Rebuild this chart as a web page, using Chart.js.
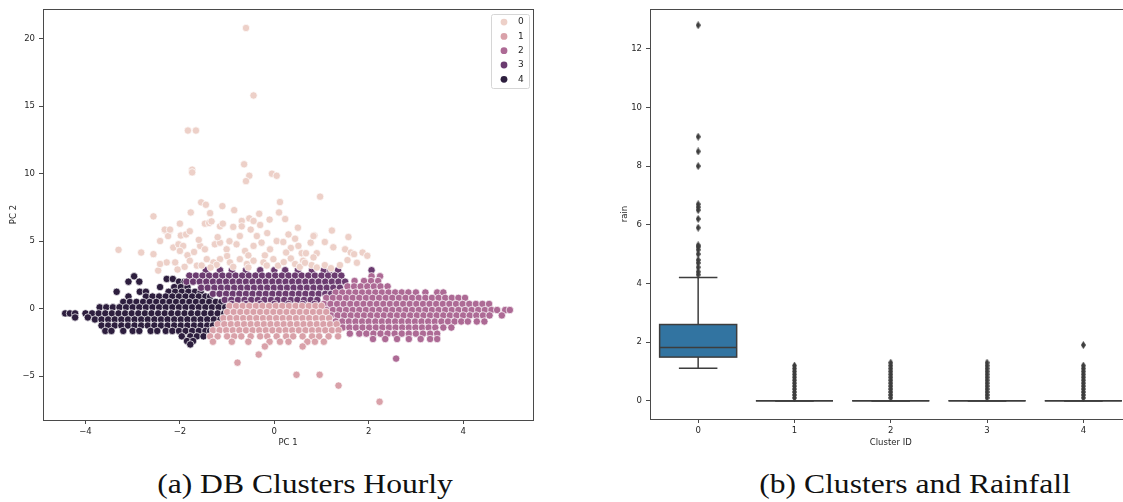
<!DOCTYPE html>
<html>
<head>
<meta charset="utf-8">
<script src="https://cdn.jsdelivr.net/npm/chart.js@4.4.0/dist/chart.umd.min.js"></script>
<style>
  html, body { margin: 0; padding: 0; background: #fff; }
  body { width: 1123px; height: 502px; overflow: hidden; position: relative; }
  #pcaChart { position: absolute; left: 0; top: 0; }
  #rainChart { position: absolute; left: 600px; top: 0; }
  .caption {
    position: absolute; top: 469px; transform: translateX(-50%) scaleX(1.17);
    font-family: "Liberation Serif", serif; font-size: 27px; color: #111; white-space: nowrap;
  }
</style>
</head>
<body>
<canvas id="pcaChart" width="560" height="460"></canvas>
<canvas id="rainChart" width="560" height="460"></canvas>
<div class="caption" style="left:305px">(a) DB Clusters Hourly</div>
<div class="caption" style="left:915px">(b) Clusters and Rainfall</div>
<script>
// ---- PCA scatter: cluster labels and colours ----
const clusterIds = ['0', '1', '2', '3', '4'];
const clusterColors = ['#edd0c8', '#d9a1a9', '#ad6a95', '#6b3b70', '#2d1e3e'];
const pcXTicks = [-4, -2, 0, 2, 4];
const pcYTicks = [-5, 0, 5, 10, 15, 20];

// cluster 0: sparse points, [PC1, PC2]
const cluster0 = [
  [-0.6, 20.8], [-0.44, 15.8], [-1.83, 13.2], [-1.66, 13.2], [-1.74, 10.3], [-1.74, 10.1],
  [-0.64, 10.7], [-0.53, 9.85], [-0.6, 9.45], [-0.05, 10.0], [0.05, 9.85], [0.97, 8.3],
  [0.12, 7.9], [0.1, 7.13], [0.23, 6.64], [-1.55, 7.88], [-1.45, 7.7], [-1.77, 7.13], [-1.36, 7.08],
  [-2.56, 6.84], [-0.32, 7.03], [-0.53, 6.69], [-0.44, 6.5], [-0.69, 6.5], [-0.85, 7.3], [-1.1, 7.6],
  [-2.21, 5.79], [-2.32, 5.79], [-2.25, 5.38], [-1.98, 5.42], [-1.87, 5.5], [-1.79, 5.74],
  [-1.47, 6.3], [-1.38, 6.35], [-1.33, 6.47], [-1.15, 6.1], [-1.09, 6.3], [-0.87, 6.06],
  [-0.69, 6.1], [-0.5, 5.86], [-0.3, 6.2], [-0.1, 6.6], [0.5, 6.0], [-2.0, 6.3],
  [-2.42, 5.01], [-2.82, 4.16], [-2.56, 4.04], [-2.14, 4.53], [-2.03, 4.77], [-1.93, 4.65],
  [-2.0, 4.28], [-1.84, 3.96], [-1.57, 4.65], [-1.47, 4.4], [-1.26, 4.77], [-1.15, 4.89],
  [-1.01, 4.4], [-0.8, 4.77], [-0.62, 4.28], [-0.44, 4.65], [-0.27, 4.89], [-0.09, 4.4],
  [0.05, 5.01], [-0.73, 5.38], [-0.37, 5.38], [-1.6, 5.1], [-1.2, 5.3], [-0.95, 5.0],
  [-0.15, 5.6], [0.3, 5.5], [-1.0, 3.9], [-1.7, 4.2], [-0.55, 3.95], [-0.2, 3.95], [0.35, 4.5],
  [-2.28, 3.43], [-2.46, 2.82], [-2.1, 3.43], [-1.79, 3.55], [-1.64, 3.19], [-1.43, 3.67],
  [-1.29, 3.43], [-1.15, 3.67], [-0.94, 3.43], [-0.73, 3.67], [-0.58, 3.31], [-0.44, 3.55],
  [-0.23, 3.43], [-0.02, 3.67], [0.08, 3.19], [-1.54, 3.2], [-1.22, 3.25], [-0.87, 3.1],
  [-0.55, 3.05], [-0.16, 3.2], [-1.9, 3.1], [-2.05, 2.9], [-1.35, 3.05], [0.2, 3.45],
  [1.22, 5.79], [1.57, 5.31], [0.85, 5.42], [0.44, 5.18], [0.19, 4.94], [0.77, 4.89],
  [1.07, 4.94], [0.51, 4.65], [0.25, 4.16], [0.58, 4.11], [0.67, 4.11], [0.9, 4.11],
  [1.5, 4.4], [1.62, 4.16], [1.69, 4.04], [1.87, 4.16], [1.97, 3.92], [0.35, 3.72],
  [0.61, 3.55], [0.83, 3.8], [0.44, 3.31], [0.79, 3.23], [1.07, 3.23], [1.39, 3.23],
  [0.54, 3.1], [0.9, 3.05], [0.65, 3.4], [1.2, 3.0], [1.55, 3.6], [1.75, 3.4], [1.25, 4.55],
  [-3.3, 4.36], [-2.32, 5.86], [-2.21, 5.86], [-2.42, 3.31], [0.83, 5.38]
];

// clusters 1-4: dense bands, one entry per row of points [PC2, [PC1 values]]
const cluster1Rows = [
  [0.2, [-0.95, -0.81, -0.67, -0.53, -0.39, -0.25, -0.11, 0.03, 0.17, 0.31, 0.45, 0.59, 0.73, 0.87, 1.0]],
  [-0.25, [-1.0, -0.86, -0.72, -0.58, -0.44, -0.3, -0.16, -0.02, 0.12, 0.26, 0.4, 0.54, 0.68, 0.82, 0.96, 1.1]],
  [-0.7, [-1.08, -0.94, -0.8, -0.66, -0.52, -0.38, -0.24, -0.1, 0.04, 0.18, 0.32, 0.46, 0.6, 0.74, 0.88, 1.02, 1.16]],
  [-1.15, [-1.2, -1.06, -0.92, -0.78, -0.64, -0.5, -0.36, -0.22, -0.08, 0.06, 0.2, 0.34, 0.48, 0.62, 0.76, 0.9, 1.04, 1.18, 1.32]],
  [-1.6, [-1.3, -1.16, -1.02, -0.88, -0.74, -0.6, -0.46, -0.32, -0.18, -0.04, 0.1, 0.24, 0.38, 0.52, 0.66, 0.8, 0.94, 1.08, 1.22, 1.36]],
  [-2.05, [-1.36, -1.2, -1.0, -0.85, -0.7, -0.5, -0.3, -0.15, 0.05, 0.25, 0.4, 0.6, 0.8, 0.95, 1.15, 1.35]],
  [-2.45, [-1.3, -0.9, -0.55, -0.1, 0.12, 0.3, 0.7, 0.86, 1.05]],
  [-2.8, [-0.2, 0.6]],
  [-3.4, [-0.33]],
  [-4.0, [-0.78]],
  [-4.9, [0.47, 0.96]],
  [-5.7, [1.36]],
  [-6.9, [2.23]]
];

const cluster2Rows = [
  [2.4, [2.06, 2.24]],
  [2.05, [1.7, 1.9, 2.05, 2.2]],
  [1.65, [1.55, 1.69, 1.83, 1.97, 2.11, 2.25, 2.4]],
  [1.2, [1.3, 1.44, 1.58, 1.72, 1.86, 2.0, 2.14, 2.28, 2.42, 2.56, 2.7, 2.84, 3.0, 3.2, 3.45, 3.58]],
  [0.8, [1.1, 1.24, 1.38, 1.52, 1.66, 1.8, 1.94, 2.08, 2.22, 2.36, 2.5, 2.64, 2.78, 2.92, 3.06, 3.2, 3.34, 3.48, 3.62, 3.76, 3.9, 4.04]],
  [0.35, [1.05, 1.19, 1.33, 1.47, 1.61, 1.75, 1.89, 2.03, 2.17, 2.31, 2.45, 2.59, 2.73, 2.87, 3.01, 3.15, 3.29, 3.43, 3.57, 3.71, 3.85, 3.99, 4.13, 4.27, 4.41, 4.55]],
  [-0.1, [1.1, 1.24, 1.38, 1.52, 1.66, 1.8, 1.94, 2.08, 2.22, 2.36, 2.5, 2.64, 2.78, 2.92, 3.06, 3.2, 3.34, 3.48, 3.62, 3.76, 3.9, 4.04, 4.18, 4.32, 4.46, 4.6, 4.72, 4.89, 4.99]],
  [-0.5, [1.2, 1.34, 1.48, 1.62, 1.76, 1.9, 2.04, 2.18, 2.32, 2.46, 2.6, 2.74, 2.88, 3.02, 3.16, 3.3, 3.44, 3.58, 3.72, 3.86, 4.0, 4.14, 4.28, 4.42, 4.56, 4.82]],
  [-0.95, [1.3, 1.44, 1.58, 1.72, 1.86, 2.0, 2.14, 2.28, 2.42, 2.56, 2.7, 2.84, 2.98, 3.12, 3.26, 3.4, 3.54, 3.68, 3.82, 3.96, 4.1, 4.29, 4.45]],
  [-1.4, [1.45, 1.59, 1.73, 1.87, 2.01, 2.15, 2.29, 2.43, 2.57, 2.71, 2.85, 2.99, 3.13, 3.27, 3.41, 3.58, 3.75]],
  [-1.85, [1.6, 1.8, 1.95, 2.1, 2.25, 2.4, 2.55, 2.7, 2.85, 3.0, 3.15, 3.3, 3.45]],
  [-2.25, [2.09, 2.35, 2.6, 2.85, 3.1, 3.3, 3.45]],
  [-3.7, [2.58]]
];

const cluster3Rows = [
  [2.85, [-1.45, -1.15, -0.9, -0.6, -0.3, 0.0, 0.23, 0.5, 0.8, 1.05, 1.18, 1.35, 2.06]],
  [2.45, [-1.8, -1.66, -1.52, -1.38, -1.24, -1.1, -0.96, -0.82, -0.68, -0.54, -0.4, -0.26, -0.12, 0.02, 0.16, 0.3, 0.44, 0.58, 0.72, 0.86, 1.0, 1.14, 1.28, 1.42]],
  [2.0, [-1.86, -1.72, -1.58, -1.44, -1.3, -1.16, -1.02, -0.88, -0.74, -0.6, -0.46, -0.32, -0.18, -0.04, 0.1, 0.24, 0.38, 0.52, 0.66, 0.8, 0.94, 1.08, 1.22, 1.36, 1.5]],
  [1.55, [-1.55, -1.41, -1.27, -1.13, -0.99, -0.85, -0.71, -0.57, -0.43, -0.29, -0.15, -0.01, 0.13, 0.27, 0.41, 0.55, 0.69, 0.83, 0.97, 1.11, 1.25, 1.39]],
  [1.1, [-1.3, -1.16, -1.02, -0.88, -0.74, -0.6, -0.46, -0.32, -0.18, -0.04, 0.1, 0.24, 0.38, 0.52, 0.66, 0.8, 0.94, 1.08, 1.2]],
  [0.65, [-1.05, -0.91, -0.77, -0.63, -0.49, -0.35, -0.21, -0.07, 0.07, 0.21, 0.35, 0.49, 0.63, 0.77, 0.91]],
  [0.35, [-0.9, -0.6, -0.3, 0.0, 0.3, 0.6, 0.85]]
];

const cluster4Rows = [
  [2.4, [-2.97]],
  [2.2, [-2.28, -2.15]],
  [2.0, [-3.09, -2.86, -2.02, -1.9]],
  [1.6, [-2.42, -2.12, -1.98, -1.84]],
  [1.25, [-3.34, -2.85, -2.72, -2.24, -2.1, -1.96, -1.82, -1.68, -1.56]],
  [0.9, [-3.09, -2.72, -2.58, -2.44, -2.3, -2.16, -2.02, -1.88, -1.74, -1.6, -1.46, -1.36]],
  [0.5, [-3.2, -3.06, -2.92, -2.78, -2.64, -2.5, -2.36, -2.22, -2.08, -1.94, -1.8, -1.66, -1.52, -1.38, -1.24, -1.12]],
  [0.1, [-3.7, -3.56, -3.42, -3.28, -3.14, -3.0, -2.86, -2.72, -2.58, -2.44, -2.3, -2.16, -2.02, -1.88, -1.74, -1.6, -1.46, -1.32, -1.18, -1.04]],
  [-0.35, [-4.43, -4.33, -4.22, -4.0, -3.86, -3.72, -3.58, -3.44, -3.3, -3.16, -3.02, -2.88, -2.74, -2.6, -2.46, -2.32, -2.18, -2.04, -1.9, -1.76, -1.62, -1.48, -1.34, -1.2, -1.06]],
  [-0.65, [-4.22, -3.95]],
  [-0.8, [-3.8, -3.66, -3.52, -3.38, -3.24, -3.1, -2.96, -2.82, -2.68, -2.54, -2.4, -2.26, -2.12, -1.98, -1.84, -1.7, -1.56, -1.42, -1.28, -1.14]],
  [-1.25, [-3.66, -3.52, -3.38, -3.24, -3.1, -2.96, -2.82, -2.68, -2.54, -2.4, -2.26, -2.12, -1.98, -1.84, -1.7, -1.56, -1.42, -1.3]],
  [-1.65, [-3.58, -3.45, -3.2, -3.0, -2.86, -2.62, -2.48, -2.3, -2.16, -2.02, -1.88, -1.74, -1.6, -1.46, -1.36]],
  [-2.05, [-1.96, -1.78, -1.64, -1.5]],
  [-2.4, [-1.85, -1.72]],
  [-2.65, [-1.78]]
];

// ---- rain box plot per cluster ----
const rainYTicks = [0, 2, 4, 6, 8, 10, 12];
const rainQ1 = [1.49, 0, 0, 0, 0];
const rainMedian = [1.82, 0, 0, 0, 0];
const rainQ3 = [2.6, 0, 0, 0, 0];
const rainWhiskerLow = [1.11, 0, 0, 0, 0];
const rainWhiskerHigh = [4.2, 0, 0, 0, 0];
const rainOutliers = [
  [12.8, 9.0, 8.5, 8.0, 6.7, 6.6, 6.5, 6.2, 5.9, 5.3, 5.25, 5.15, 5.0, 4.8, 4.7, 4.55, 4.4, 4.3],
  [0.1, 0.2, 0.3, 0.4, 0.5, 0.6, 0.7, 0.8, 0.9, 1.0, 1.1, 1.2],
  [0.1, 0.2, 0.3, 0.4, 0.5, 0.6, 0.7, 0.8, 0.9, 1.0, 1.1, 1.2, 1.3],
  [0.1, 0.2, 0.3, 0.4, 0.5, 0.6, 0.7, 0.8, 0.9, 1.0, 1.1, 1.2, 1.3],
  [0.1, 0.2, 0.3, 0.4, 0.5, 0.6, 0.7, 0.8, 0.9, 1.0, 1.1, 1.2, 1.9]
];

const fromPairs = pts => pts.map(([x, y]) => ({ x, y }));
const fromRows = rows => rows.flatMap(([y, xs]) => xs.map(x => ({ x, y })));
const minus = v => (v < 0 ? '\u2212' + Math.abs(v) : String(v));

const INK = '#262626';
const SPINE = '#4a4a4a';
const tickFont = { family: 'DejaVu Sans', size: 8.5 };

// full box around the plotting area
const frame = {
  id: 'frame',
  afterDatasetsDraw(chart) {
    const { ctx, chartArea: a } = chart;
    ctx.save();
    ctx.strokeStyle = SPINE;
    ctx.lineWidth = 1;
    ctx.strokeRect(Math.round(a.left) + 0.5, Math.round(a.top) + 0.5,
      Math.round(a.right - a.left), Math.round(a.bottom - a.top));
    ctx.restore();
  }
};

// hue legend drawn in the upper right corner of the scatter
const insideLegend = {
  id: 'insideLegend',
  afterDraw(chart) {
    const { ctx, chartArea: a } = chart;
    const w = 38, h = 74;
    const x = a.right - w - 4, y = a.top + 5;
    ctx.save();
    ctx.fillStyle = 'rgba(255,255,255,0.85)';
    ctx.strokeStyle = '#d6d6d6';
    ctx.lineWidth = 1;
    ctx.beginPath();
    ctx.roundRect(Math.round(x) + 0.5, Math.round(y) + 0.5, w, h, 2);
    ctx.fill();
    ctx.stroke();
    ctx.font = '9px "DejaVu Sans"';
    ctx.textBaseline = 'middle';
    chart.data.datasets.forEach((ds, i) => {
      const cy = y + 8 + i * 14.3;
      ctx.beginPath();
      ctx.arc(x + 13, cy, 3.4, 0, Math.PI * 2);
      ctx.fillStyle = ds.backgroundColor;
      ctx.fill();
      ctx.fillStyle = INK;
      ctx.fillText(ds.label, x + 27, cy);
    });
    ctx.restore();
  }
};

const clusterPoints = [
  fromPairs(cluster0),
  fromRows(cluster1Rows),
  fromRows(cluster2Rows),
  fromRows(cluster3Rows),
  fromRows(cluster4Rows)
];

new Chart(document.getElementById('pcaChart'), {
  type: 'scatter',
  data: {
    datasets: clusterIds.map((id, i) => ({
      label: id,
      data: clusterPoints[i],
      backgroundColor: clusterColors[i],
      borderColor: '#ffffff',
      borderWidth: 0.7,
      pointRadius: 3.7,
      pointHoverRadius: 3.7
    }))
  },
  options: {
    responsive: false,
    animation: false,
    layout: { padding: { top: 3, right: 27, left: 0, bottom: 0 } },
    plugins: { legend: { display: false }, tooltip: { enabled: false } },
    scales: {
      x: {
        type: 'linear', min: -4.9, max: 5.48,
        afterBuildTicks: s => { s.ticks = pcXTicks.map(v => ({ value: v })); },
        afterFit: s => { s.height = 40; },
        ticks: { font: tickFont, color: INK, padding: 3, callback: minus },
        grid: { drawOnChartArea: false, tickLength: 4, color: SPINE },
        border: { color: SPINE },
        title: { display: true, text: 'PC 1', font: tickFont, color: INK, padding: { bottom: 12 } }
      },
      y: {
        type: 'linear', min: -8.25, max: 22.2,
        afterBuildTicks: s => { s.ticks = pcYTicks.map(v => ({ value: v })); },
        afterFit: s => { s.width = 43; },
        ticks: { font: tickFont, color: INK, padding: 4, callback: minus },
        grid: { drawOnChartArea: false, tickLength: 4, color: SPINE },
        border: { color: SPINE },
        title: { display: true, text: 'PC 2', font: tickFont, color: INK, padding: { top: 9 } }
      }
    }
  },
  plugins: [frame, insideLegend]
});

// ---- box plot ----
const BOX_FILL = '#3274a1';
const BOX_LINE = '#3d3d3d';

// thin diamond marker used for the fliers
function thinDiamond(w, h, color) {
  const c = document.createElement('canvas');
  c.width = w; c.height = h;
  const g = c.getContext('2d');
  g.fillStyle = color;
  g.beginPath();
  g.moveTo(w / 2, 0); g.lineTo(w, h / 2); g.lineTo(w / 2, h); g.lineTo(0, h / 2);
  g.closePath();
  g.fill();
  return c;
}
const flierMark = thinDiamond(5, 8, BOX_LINE);

const boxes = {
  id: 'boxes',
  beforeDatasetsDraw(chart) {
    const { ctx, scales: { x, y } } = chart;
    const seg = (x1, y1, x2, y2) => { ctx.beginPath(); ctx.moveTo(x1, y1); ctx.lineTo(x2, y2); ctx.stroke(); };
    ctx.save();
    ctx.strokeStyle = BOX_LINE;
    ctx.lineWidth = 1.5;
    clusterIds.forEach((id, i) => {
      const cx = x.getPixelForValue(i);
      const left = x.getPixelForValue(i - 0.4), right = x.getPixelForValue(i + 0.4);
      const capL = x.getPixelForValue(i - 0.2), capR = x.getPixelForValue(i + 0.2);
      const q1 = y.getPixelForValue(rainQ1[i]);
      const q3 = y.getPixelForValue(rainQ3[i]);
      const med = y.getPixelForValue(rainMedian[i]);
      const lo = y.getPixelForValue(rainWhiskerLow[i]);
      const hi = y.getPixelForValue(rainWhiskerHigh[i]);
      seg(cx, q1, cx, lo);
      seg(cx, q3, cx, hi);
      seg(capL, lo, capR, lo);
      seg(capL, hi, capR, hi);
      ctx.fillStyle = BOX_FILL;
      ctx.fillRect(left, q3, right - left, q1 - q3);
      ctx.strokeRect(left, q3, right - left, q1 - q3);
      seg(left, med, right, med);
    });
    ctx.restore();
  }
};

new Chart(document.getElementById('rainChart'), {
  type: 'scatter',
  data: {
    datasets: clusterIds.map((id, i) => ({
      label: id,
      data: rainOutliers[i].map(v => ({ x: i, y: v })),
      pointStyle: flierMark,
      backgroundColor: BOX_LINE,
      borderColor: BOX_LINE
    }))
  },
  options: {
    responsive: false,
    animation: false,
    layout: { padding: { top: 7, right: 28.5, left: 0, bottom: 0 } },
    plugins: { legend: { display: false }, tooltip: { enabled: false } },
    scales: {
      x: {
        type: 'linear', min: -0.5, max: 4.5,
        afterBuildTicks: s => { s.ticks = clusterIds.map((id, i) => ({ value: i })); },
        afterFit: s => { s.height = 41; },
        ticks: { font: tickFont, color: INK, padding: 3, callback: v => clusterIds[v] },
        grid: { drawOnChartArea: false, tickLength: 4, color: SPINE },
        border: { color: SPINE },
        title: { display: true, text: 'Cluster ID', font: tickFont, color: INK, padding: { bottom: 12 } }
      },
      y: {
        type: 'linear', min: -0.62, max: 13.35,
        afterBuildTicks: s => { s.ticks = rainYTicks.map(v => ({ value: v })); },
        afterFit: s => { s.width = 50; },
        ticks: { font: tickFont, color: INK, padding: 4 },
        grid: { drawOnChartArea: false, tickLength: 4, color: SPINE },
        border: { color: SPINE },
        title: { display: true, text: 'rain', font: tickFont, color: INK, padding: { top: 20 } }
      }
    }
  },
  plugins: [boxes, frame]
});
</script>
</body>
</html>
